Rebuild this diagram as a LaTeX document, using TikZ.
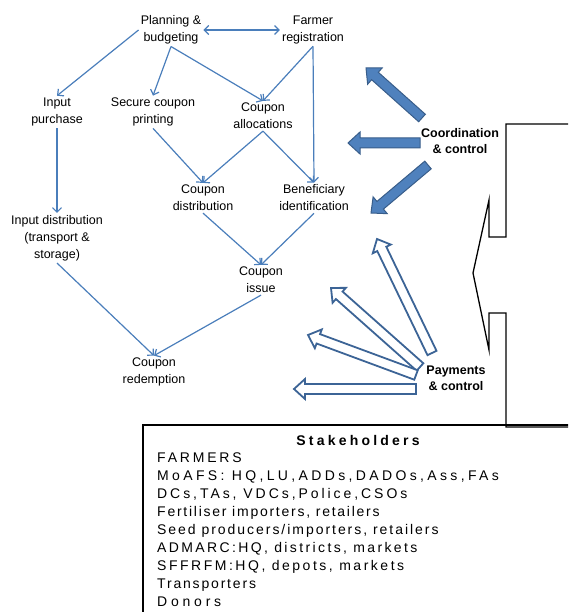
\documentclass[tikz,border=0pt]{standalone}
\usepackage{fontspec}
\setmainfont{Liberation Sans}
\newfontfamily\spacedfont[LetterSpace=23]{Liberation Sans}
\usepackage{tikz}
\usetikzlibrary{calc}
\usetikzlibrary{arrows.meta}

\definecolor{linkblue}{RGB}{74,126,187}
\definecolor{fatfill}{RGB}{79,129,189}
\definecolor{fatedge}{RGB}{56,93,138}
\definecolor{hollowedge}{RGB}{60,100,150}

% block arrow: style, tail, tip, shaft half width, head half width, head length
\newcommand{\fatarrow}[6]{%
  \coordinate (fah) at ($(#3)!#6!(#2)$);
  \draw[#1] ($(#2)!#4!90:(#3)$) -- ($(fah)!#4!90:(#3)$) -- ($(fah)!#5!90:(#3)$) -- (#3)
    -- ($(fah)!#5!-90:(#3)$) -- ($(fah)!#4!-90:(#3)$) -- ($(#2)!#4!-90:(#3)$) -- cycle;
}
% one line of the list with its own letter spacing
\newcommand{\spline}[2]{{\addfontfeatures{LetterSpace=#1}#2}}

\begin{document}
\begin{tikzpicture}[x=1pt, y=-1pt,
    lbl/.style={align=center, inner sep=2pt, font=\fontsize{12.5}{17}\selectfont},
    boldlbl/.style={lbl, font=\fontsize{12.5}{16}\selectfont\bfseries},
    link/.style={draw=linkblue, line width=1.2pt, -{Straight Barb[length=4.5pt,width=9pt]}},
    filledarrow/.style={fill=fatfill, draw=fatedge, line width=1pt},
    hollowarrow/.style={fill=white, draw=hollowedge, line width=1.8pt}]
    \clip (0,0) rectangle (568,612);

    % process steps
    \node[lbl] (plan) at (171,30) {Planning \&\\budgeting};
    \node[lbl] (farmer) at (313,30) {Farmer\\registration};
    \node[lbl] (inpur) at (57,112) {Input\\purchase};
    \node[lbl] (secure) at (153,112) {Secure coupon\\printing};
    \node[lbl] (alloc) at (263,116) {Coupon\\allocations};
    \node[lbl] (cdist) at (203,198) {Coupon\\distribution};
    \node[lbl] (benef) at (314,198) {Beneficiary\\identification};
    \node[lbl] (indist) at (57,238) {Input distribution\\(transport \&\\storage)};
    \node[lbl] (issue) at (261,280) {Coupon\\issue};
    \node[lbl] (redeem) at (154,372) {Coupon\\redemption};

    \draw[link, {Straight Barb[length=4.5pt,width=9pt]}-{Straight Barb[length=4.5pt,width=9pt]}] (plan) -- (farmer);
    \draw[link] (plan.west) -- (inpur.north);
    \draw[link] (plan.south) -- (secure.north);
    \draw[link] (plan.south) -- (alloc.north);
    \draw[link] (farmer.south) -- (alloc.north);
    \draw[link] (farmer.south) -- (benef.north);
    \draw[link] (inpur.south) -- (indist.north);
    \draw[link] (secure.south) -- (cdist.north);
    \draw[link] (alloc.south) -- (cdist.north);
    \draw[link] (alloc.south) -- (benef.north);
    \draw[link] (cdist.south) -- (issue.north);
    \draw[link] (benef.south) -- (issue.north);
    \draw[link] (issue.south) -- (redeem.north);
    \draw[link] (indist.south) -- (redeem.north);

    % coordination and payments
    \node[boldlbl] (coord) at (460,141) {Coordination\\\& control};
    \node[boldlbl] (pay) at (456,378) {Payments\\\& control};

    \coordinate (cta) at (422,118);  \coordinate (ctb) at (366,68);
    \coordinate (cma) at (420,143);  \coordinate (cmb) at (348,143);
    \coordinate (cba) at (428,165);  \coordinate (cbb) at (371,213);
    \fatarrow{filledarrow}{cta}{ctb}{5pt}{11pt}{12pt}
    \fatarrow{filledarrow}{cma}{cmb}{5pt}{11pt}{12pt}
    \fatarrow{filledarrow}{cba}{cbb}{5pt}{11pt}{12pt}

    \coordinate (pa1) at (432,353);  \coordinate (pb1) at (377,239);
    \coordinate (pa2) at (420,367);  \coordinate (pb2) at (331,288);
    \coordinate (pa3) at (416,375);  \coordinate (pb3) at (308,335);
    \coordinate (pa4) at (416,389);  \coordinate (pb4) at (294,389);
    \fatarrow{hollowarrow}{pa1}{pb1}{5pt}{10pt}{11pt}
    \fatarrow{hollowarrow}{pa2}{pb2}{5pt}{10pt}{11pt}
    \fatarrow{hollowarrow}{pa3}{pb3}{5pt}{10pt}{11pt}
    \fatarrow{hollowarrow}{pa4}{pb4}{5pt}{10pt}{11pt}

    % callout
    \draw[line width=1.3pt] (568,124) -- (506,124) -- (506,237) -- (489,237) -- (489,200)
        -- (473,273) -- (489,350) -- (489,313) -- (506,313) -- (506,427) -- (568,427);

    % stakeholders
    \draw[line width=1.3pt] (143,425) rectangle (600,640);
    \node[font=\fontsize{14}{18}\selectfont\spacedfont\bfseries] (stake) at (358,440) {Stakeholders};
    \node[anchor=north west, align=left, inner sep=0pt, font=\fontsize{14}{18}\selectfont]
        (list) at (157,453) {\spline{20}{FARMERS}\\
        \spline{24}{MoAFS: HQ,LU,ADDs,DADOs,Ass,FAs}\\
        \spline{21}{DCs,TAs, VDCs,Police,CSOs}\\
        \spline{12.5}{Fertiliser importers, retailers}\\
        \spline{14}{Seed producers/importers, retailers}\\
        \spline{17}{ADMARC:HQ, districts, markets}\\
        \spline{18}{SFFRFM:HQ, depots, markets}\\
        \spline{13}{Transporters}\\
        \spline{27}{Donors}};
\end{tikzpicture}
\end{document}
